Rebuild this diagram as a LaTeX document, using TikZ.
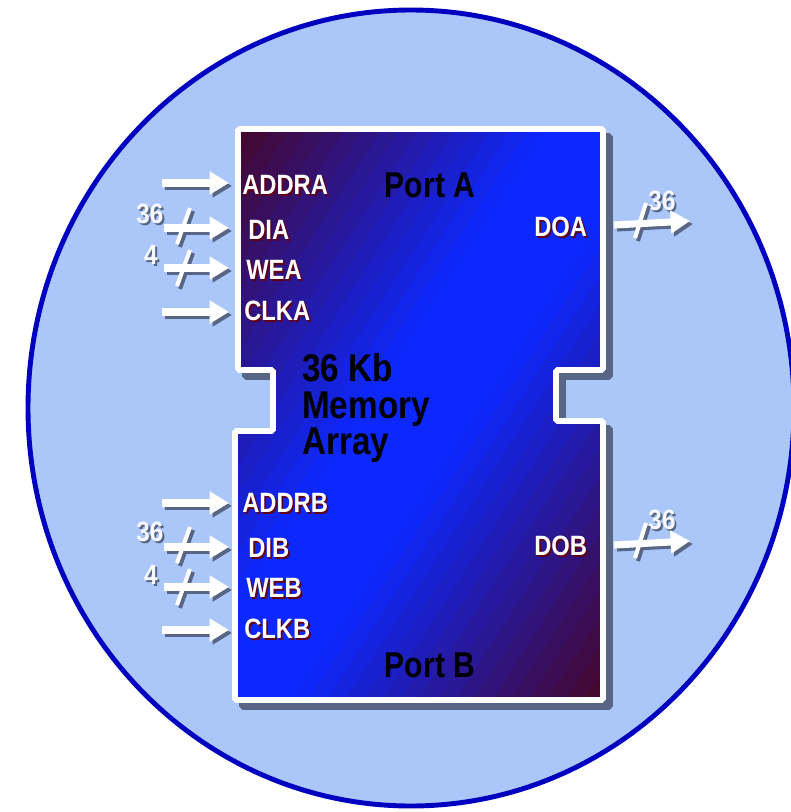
\documentclass[tikz,border=0pt]{standalone}
\usepackage{fontspec}
\setmainfont{Liberation Sans}
\usetikzlibrary{arrows.meta,positioning}
\definecolor{sky}{RGB}{171,199,250}
\definecolor{rim}{RGB}{0,0,192}
\definecolor{chipblue}{RGB}{12,40,255}
\definecolor{chipdark}{RGB}{72,6,38}
\definecolor{shade}{RGB}{88,102,134}
\definecolor{pinred}{RGB}{96,0,24}
\newcommand{\redshadow}[1]{\rlap{\kern1.2pt\raisebox{-1.2pt}{\color{pinred}#1}}#1}
\newcommand{\grayshadow}[1]{\rlap{\kern1.2pt\raisebox{-1.2pt}{\color{shade}#1}}#1}
\tikzset{
    bubble/.style={fill=sky, draw=rim, line width=2.8pt},
    chip/.style={draw=white, line width=3.4pt, rounded corners=1pt},
    chipshadow/.style={fill=shade, draw=shade, line width=3.4pt, rounded corners=1pt},
    pin/.style={inner sep=0pt, anchor=west, text=white, xscale=0.85, font=\bfseries\fontsize{15.9}{18}\selectfont},
    buswidth/.style={inner sep=0pt, text=white!90!sky, xscale=0.87, font=\bfseries\fontsize{15.9}{18}\selectfont},
    port/.style={inner sep=0pt, xscale=0.84, font=\bfseries\fontsize{20.4}{22}\selectfont},
    core/.style={inner sep=0pt, anchor=west, align=left, xscale=0.86, font=\bfseries\fontsize{22}{20.6}\selectfont},
    sig/.style={draw=white, line width=4pt, -{Triangle[length=11pt, width=12.5pt]}},
    sigshade/.style={sig, draw=shade, transform canvas={shift={(1.7pt,-1.7pt)}}},
    slash/.style={draw=white, line width=2.3pt},
    slashshade/.style={slash, draw=shade, transform canvas={shift={(1.7pt,-1.7pt)}}}
}

\begin{document}
\begin{tikzpicture}[x=0.02cm, y=-0.02cm]
    \useasboundingbox (0,0) rectangle (791,812);
    \draw[bubble] (411,408) ellipse [x radius=383, y radius=398];

    % memory block with its notches
    \draw[chipshadow, shift={(7,7)}] (238,129) -- (603,129) -- (603,370) -- (556,370) -- (556,421) -- (603,421) -- (603,700) -- (235,700) -- (235,431) -- (273,431) -- (273,370) -- (238,370) -- cycle;
    \begin{scope}
        \clip (238,129) -- (603,129) -- (603,370) -- (556,370) -- (556,421) -- (603,421) -- (603,700) -- (235,700) -- (235,431) -- (273,431) -- (273,370) -- (238,370) -- cycle;
        % diagonal bands: dark corners, blue across the middle
        \begin{scope}[shift={(235,129)}, x=7.36cm, y=-11.42cm]
            \foreach \k in {0,...,39} {
                \pgfmathsetmacro\sa{\k/20}
                \pgfmathsetmacro\sb{\sa+0.055}
                \pgfmathsetmacro\p{min(100,max(0,(1-abs(\sa+0.025-1))/0.85*100))}
                \fill[chipblue!\p!chipdark] (\sa+0.1,-0.1) -- (\sb+0.1,-0.1) -- (\sb-1.1,1.1) -- (\sa-1.1,1.1) -- cycle;
            }
        \end{scope}
    \end{scope}
    \draw[chip] (238,129) -- (603,129) -- (603,370) -- (556,370) -- (556,421) -- (603,421) -- (603,700) -- (235,700) -- (235,431) -- (273,431) -- (273,370) -- (238,370) -- cycle;

    \node[port] (porta) at (430,185) {Port A};
    \node[port] (portb) at (430,665) {Port B};
    \node[core] (core) at (302,408) {36 Kb\\Memory\\Array};

    % port A pins
    \node[pin] (addra) at (242,186) {\redshadow{ADDRA}};
    \node[pin] (dia) at (248,231) {\redshadow{DIA}};
    \node[pin] (wea) at (246,271) {\redshadow{WEA}};
    \node[pin] (clka) at (244,312) {\redshadow{CLKA}};
    \node[pin] (doa) at (534,228) {\redshadow{DOA}};
    % port B pins
    \node[pin] (addrb) at (242,504) {\redshadow{ADDRB}};
    \node[pin] (dib) at (248,549) {\redshadow{DIB}};
    \node[pin] (web) at (246,589) {\redshadow{WEB}};
    \node[pin] (clkb) at (244,630) {\redshadow{CLKB}};
    \node[pin] (dob) at (534,547) {\redshadow{DOB}};

    \node[buswidth] (dia-w) at (150,215) {\grayshadow{36}};
    \node[buswidth] (wea-w) at (151,256) {\grayshadow{4}};
    \node[buswidth] (dib-w) at (150,533) {\grayshadow{36}};
    \node[buswidth] (web-w) at (151,576) {\grayshadow{4}};
    \node[buswidth] (doa-w) at (662,202) {\grayshadow{36}};
    \node[buswidth] (dob-w) at (662,521) {\grayshadow{36}};

    \coordinate (pincol) at (229,0);
    \coordinate (addra-in) at (162,183);
    \coordinate (dia-in) at (164,228);
    \coordinate (wea-in) at (164,268);
    \coordinate (clka-in) at (162,312);
    \coordinate (addrb-in) at (162,503);
    \coordinate (dib-in) at (164,547);
    \coordinate (web-in) at (164,587);
    \coordinate (clkb-in) at (162,630);
    \coordinate (doa-out) at (614,225);
    \coordinate (doa-end) at (690,221);
    \coordinate (dob-out) at (614,545);
    \coordinate (dob-end) at (690,541);

    % arrows, shadow first
    \foreach \lay/\cut in {sigshade/slashshade, sig/slash} {
        \draw[\lay] (addra-in) -- (addra-in -| pincol);
        \draw[\lay] (dia-in) -- (dia-in -| pincol);
        \draw[\lay] (wea-in) -- (wea-in -| pincol);
        \draw[\lay] (clka-in) -- (clka-in -| pincol);
        \draw[\lay] (addrb-in) -- (addrb-in -| pincol);
        \draw[\lay] (dib-in) -- (dib-in -| pincol);
        \draw[\lay] (web-in) -- (web-in -| pincol);
        \draw[\lay] (clkb-in) -- (clkb-in -| pincol);
        \draw[\lay] (doa-out) -- (doa-end);
        \draw[\lay] (dob-out) -- (dob-end);
        \draw[\cut] ([shift={(13,16)}]dia-in) -- ++(13,-36);
        \draw[\cut] ([shift={(13,18)}]wea-in) -- ++(13,-36);
        \draw[\cut] ([shift={(13,16)}]dib-in) -- ++(13,-36);
        \draw[\cut] ([shift={(13,18)}]web-in) -- ++(13,-36);
        \draw[\cut] ([shift={(21,13)}]doa-out) -- ++(11,-35);
        \draw[\cut] ([shift={(21,13)}]dob-out) -- ++(11,-35);
    }
\end{tikzpicture}
\end{document}
